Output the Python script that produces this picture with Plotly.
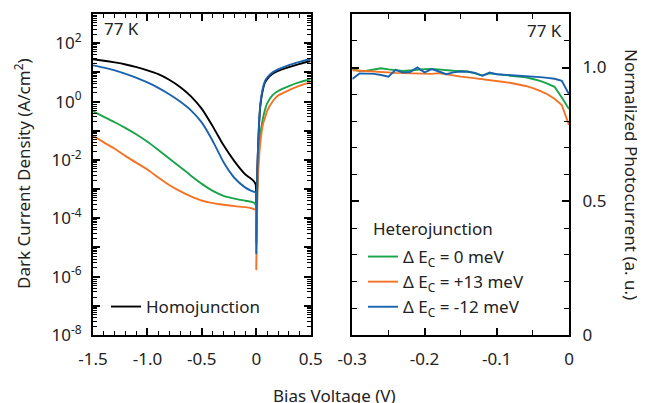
import plotly.graph_objects as go

# ---------------- Data: left panel (dark current density, A/cm^2) ----------------
bias_dark = [-1.5, -1.4, -1.3, -1.2, -1.1, -1.0, -0.9, -0.8, -0.7, -0.6, -0.5, -0.4, -0.3,
             -0.2, -0.1, -0.05, -0.02, -0.005, 0.0, 0.01, 0.02, 0.03, 0.04, 0.06, 0.08,
             0.1, 0.15, 0.2, 0.3, 0.4, 0.5]

j_homo = [2.82e1, 2.51e1, 2.19e1, 1.86e1, 1.51e1, 1.17e1, 8.7e0, 5.6e0, 3.16e0, 1.51e0,
          5.6e-1, 1.41e-1, 3.16e-2, 8.9e-3, 3.16e-3, 2.29e-3, 1.82e-3, 1.41e-3, 1.6e-5,
          5.0e-3, 5.6e-2, 3.2e-1, 8.9e-1, 2.5e0, 4.5e0, 5.9e0, 8.9e0, 1.12e1, 1.51e1,
          1.95e1, 2.45e1]

j_0mev = [4.68e-1, 3.0e-1, 1.95e-1, 1.23e-1, 7.4e-2, 4.17e-2, 2.19e-2, 1.12e-2, 5.75e-3,
          2.88e-3, 1.51e-3, 8.7e-4, 5.9e-4, 4.7e-4, 4.0e-4, 3.7e-4, 3.4e-4, 2.8e-4, 1.3e-5,
          1.0e-3, 1.0e-2, 3.5e-2, 8.9e-2, 2.5e-1, 5.2e-1, 8.7e-1, 1.66e0, 2.3e0, 3.4e0,
          4.6e0, 5.8e0]

j_p13mev = [6.76e-2, 3.98e-2, 2.4e-2, 1.35e-2, 7.9e-3, 4.7e-3, 2.5e-3, 1.38e-3, 8.5e-4,
            5.6e-4, 4.0e-4, 3.3e-4, 2.9e-4, 2.6e-4, 2.4e-4, 2.24e-4, 2.04e-4, 1.9e-4, 1.8e-6,
            6.3e-4, 6.3e-3, 2.0e-2, 5.0e-2, 1.6e-1, 2.8e-1, 4.8e-1, 1.0e0, 1.6e0, 2.45e0,
            3.5e0, 4.6e0]

j_m12mev = [1.74e1, 1.45e1, 1.17e1, 8.9e0, 6.5e0, 4.5e0, 2.95e0, 1.78e0, 1.0e0, 5.0e-1,
            1.9e-1, 4.47e-2, 8.3e-3, 2.4e-3, 1.12e-3, 8.9e-4, 8.1e-4, 7.6e-4, 6.3e-6, 5.0e-3,
            6.3e-2, 3.55e-1, 1.0e0, 2.8e0, 5.0e0, 6.6e0, 1.0e1, 1.26e1, 1.78e1, 2.29e1,
            2.88e1]

# ---------------- Data: right panel (normalized photocurrent) ----------------
bias_photo = [-0.30, -0.29, -0.28, -0.27, -0.26, -0.25, -0.24, -0.23, -0.22, -0.21, -0.20,
              -0.19, -0.18, -0.17, -0.16, -0.15, -0.14, -0.13, -0.12, -0.11, -0.10, -0.09,
              -0.08, -0.07, -0.06, -0.05, -0.04, -0.03, -0.02, -0.01, 0.0]

pc_0mev = [0.995, 0.987, 0.988, 0.993, 0.997, 0.993, 0.989, 0.987, 0.989, 0.992, 0.994,
           0.995, 0.992, 0.990, 0.988, 0.987, 0.985, 0.978, 0.970, 0.978, 0.975, 0.972,
           0.970, 0.967, 0.963, 0.957, 0.950, 0.940, 0.928, 0.888, 0.845]

pc_p13mev = [0.990, 0.988, 0.986, 0.984, 0.982, 0.981, 0.980, 0.979, 0.978, 0.977, 0.977,
             0.976, 0.979, 0.974, 0.970, 0.966, 0.963, 0.960, 0.957, 0.954, 0.950, 0.946,
             0.942, 0.937, 0.931, 0.923, 0.913, 0.900, 0.883, 0.860, 0.785]

pc_m12mev = [0.957, 0.978, 0.977, 0.976, 0.972, 0.966, 0.991, 0.981, 0.983, 1.000, 0.982,
             0.994, 0.985, 0.975, 0.982, 0.985, 0.984, 0.980, 0.969, 0.981, 0.975, 0.972,
             0.971, 0.969, 0.968, 0.966, 0.964, 0.961, 0.958, 0.950, 0.900]

# tick labels
dark_y_tickvals = [1e-8, 1e-7, 1e-6, 1e-5, 1e-4, 1e-3, 1e-2, 1e-1, 1e0, 1e1, 1e2, 1e3]
dark_y_ticktext = ["10<sup>-8</sup>", "", "10<sup>-6</sup>", "", "10<sup>-4</sup>", "",
                   "10<sup>-2</sup>", "", "10<sup>0</sup>", "", "10<sup>2</sup>", ""]
dark_x_tickvals = [-1.5, -1.0, -0.5, 0, 0.5]
dark_x_ticktext = ["-1.5", "-1.0", "-0.5", "0", "0.5"]
photo_x_tickvals = [-0.3, -0.2, -0.1, 0]
photo_x_ticktext = ["-0.3", "-0.2", "-0.1", "0"]
photo_y_tickvals = [0, 0.5, 1.0]
photo_y_ticktext = ["0", "0.5", "1.0"]

# ---------------- Style ----------------
FONT = "Noto Sans"
TXT = "#222222"
FS = 17
C_BLACK = "#000000"
C_GREEN = "#19a44a"
C_ORANGE = "#f47224"
C_BLUE = "#1b63ad"
LW = 1.9

fig = go.Figure()

dark_line = dict(shape="spline", smoothing=0.6, width=LW)
fig.add_trace(go.Scatter(x=bias_dark, y=j_homo, mode="lines", name="Homojunction",
                         line=dict(color=C_BLACK, **dark_line), xaxis="x", yaxis="y",
                         legend="legend"))
fig.add_trace(go.Scatter(x=bias_dark, y=j_0mev, mode="lines", showlegend=False,
                         line=dict(color=C_GREEN, **dark_line), xaxis="x", yaxis="y"))
fig.add_trace(go.Scatter(x=bias_dark, y=j_p13mev, mode="lines", showlegend=False,
                         line=dict(color=C_ORANGE, **dark_line), xaxis="x", yaxis="y"))
fig.add_trace(go.Scatter(x=bias_dark, y=j_m12mev, mode="lines", showlegend=False,
                         line=dict(color=C_BLUE, **dark_line), xaxis="x", yaxis="y"))

fig.add_trace(go.Scatter(x=bias_photo, y=pc_0mev, mode="lines",
                         name="Δ E<sub>C</sub> = 0 meV",
                         line=dict(color=C_GREEN, width=LW), xaxis="x2", yaxis="y2",
                         legend="legend2"))
fig.add_trace(go.Scatter(x=bias_photo, y=pc_p13mev, mode="lines",
                         name="Δ E<sub>C</sub> = +13 meV",
                         line=dict(color=C_ORANGE, width=LW), xaxis="x2", yaxis="y2",
                         legend="legend2"))
fig.add_trace(go.Scatter(x=bias_photo, y=pc_m12mev, mode="lines",
                         name="Δ E<sub>C</sub> = -12 meV",
                         line=dict(color=C_BLUE, width=LW), xaxis="x2", yaxis="y2",
                         legend="legend2"))

# page has an 8px body margin: figure is offset by 8px
OFF = 8
W, H = 645 - OFF, 403 - OFF
L, T = 93 - OFF, 14 - OFF
pw, ph = 476, 321
R = W - L - pw
B = H - T - ph


def px(xp):  # page x pixel -> paper
    return (xp - OFF - L) / pw


def py(yp):  # page y pixel -> paper
    return (H - B - (yp - OFF)) / ph


axis_common = dict(showline=True, linecolor="black", linewidth=2, ticks="inside",
                   tickcolor="black", tickwidth=1.5, mirror="allticks", showgrid=False,
                   zeroline=False, automargin=False,
                   tickfont=dict(family=FONT, size=FS, color=TXT))
minor_common = dict(ticks="inside", tickcolor="black", tickwidth=1.2)

fig.update_layout(
    width=W, height=H,
    margin=dict(l=L, r=R, t=T, b=B),
    paper_bgcolor="white", plot_bgcolor="white",
    font=dict(family=FONT, size=FS, color=TXT),
    xaxis=dict(domain=[0, px(310.7)], range=[-1.5, 0.5], tickmode="array",
               tickvals=dark_x_tickvals, ticktext=dark_x_ticktext, ticklen=7,
               ticklabelstandoff=8,
               minor=dict(dtick=0.1, ticklen=4, **minor_common), anchor="y", **axis_common),
    yaxis=dict(type="log", range=[-8, 3], tickmode="array", tickvals=dark_y_tickvals,
               ticktext=dark_y_ticktext, ticklen=7, ticklabelstandoff=6,
               minor=dict(dtick="D1", ticklen=4, **minor_common), anchor="x", **axis_common),
    xaxis2=dict(domain=[px(352.3), 1], range=[-0.3, 0], tickmode="array",
                tickvals=photo_x_tickvals, ticktext=photo_x_ticktext, ticklen=7,
                ticklabelstandoff=8,
                minor=dict(dtick=0.05, ticklen=5, **minor_common), anchor="y2",
                **axis_common),
    yaxis2=dict(range=[0, 1.2], side="right", tickmode="array", tickvals=photo_y_tickvals,
                ticktext=photo_y_ticktext, ticklen=7, ticklabelstandoff=8,
                minor=dict(dtick=0.1, ticklen=5, **minor_common), anchor="x2",
                **axis_common),
    legend=dict(x=px(106), y=py(307), xanchor="left", yanchor="middle",
                bgcolor="rgba(0,0,0,0)", font=dict(family=FONT, size=FS, color=TXT),
                itemwidth=30),
    legend2=dict(x=px(363), y=py(239), xanchor="left", yanchor="top",
                 bgcolor="rgba(0,0,0,0)", font=dict(family=FONT, size=FS, color=TXT),
                 itemwidth=30, tracegroupgap=0),
)

ann_font = dict(family=FONT, size=FS, color=TXT)
fig.add_annotation(text="Heterojunction", xref="paper", yref="paper", x=px(371),
                   y=py(228), xanchor="left", yanchor="middle", showarrow=False,
                   font=ann_font)
fig.add_annotation(text="77 K", xref="paper", yref="paper", x=px(102), y=py(28),
                   xanchor="left", yanchor="middle", showarrow=False, font=ann_font)
fig.add_annotation(text="77 K", xref="paper", yref="paper", x=px(564), y=py(30),
                   xanchor="right", yanchor="middle", showarrow=False, font=ann_font)
fig.add_annotation(text="Bias Voltage (V)", xref="paper", yref="paper", x=px(334),
                   y=py(396), xanchor="center", yanchor="middle", showarrow=False,
                   font=ann_font)
fig.add_annotation(text="Dark Current Density (A/cm<sup>2</sup>)", xref="paper",
                   yref="paper", x=px(22), y=py(174), xanchor="center", yanchor="middle",
                   textangle=-90, showarrow=False, font=ann_font)
fig.add_annotation(text="Normalized Photocurrent (a. u.)", xref="paper", yref="paper",
                   x=px(632), y=py(174), xanchor="center", yanchor="middle",
                   textangle=90, showarrow=False, font=ann_font)

fig.write_html("out.html")
